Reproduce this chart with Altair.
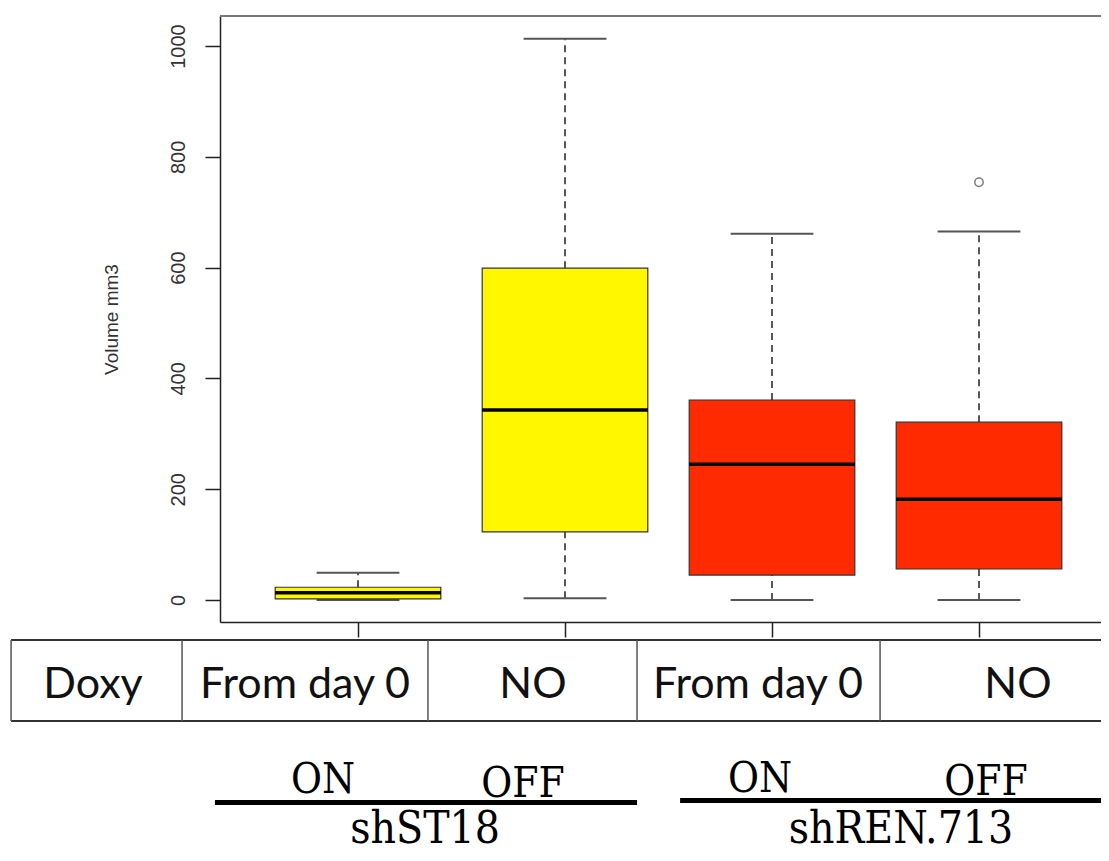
import altair as alt
import pandas as pd

# ---- box plot data ----
positions = [1, 2, 3, 4]
doxy = ["From day 0", "NO", "From day 0", "NO"]
fills = ["#FFF700", "#FFF700", "#FF2A00", "#FF2A00"]
lower_whisker = [0, 3, 0, 0]
q1 = [2, 123, 45, 56]
median = [13, 343, 245, 182]
q3 = [23, 599, 361, 321]
upper_whisker = [49, 1013, 661, 665]
outlier_pos = [4]
outlier_val = [754]
y_ticks = [0, 200, 400, 600, 800, 1000]

# ---- annotation table under the plot (in axis units) ----
table_row_y = [-72.2, -218.4]
table_left = -0.676
table_right = 5.0
table_dividers = [-0.676, 0.150, 1.338, 2.348, 3.522]
table_text_x = [-0.280, 0.744, 1.845, 2.932, 4.188]
table_text = ["Doxy", "From day 0", "NO", "From day 0", "NO"]
table_text_y = -153.4

state_x = [0.831, 1.797, 2.942, 4.034]
state_y = [-348.0, -355.0, -346.6, -352.0]
state_text = ["ON", "OFF", "ON", "OFF"]

group_line_x1 = [0.309, 2.556]
group_line_x2 = [2.348, 5.0]
group_line_y = [-365.5, -362.0]
group_x = [1.324, 3.623]
group_y = [-438.6, -438.6]
group_text = ["shST18", "shREN.713"]

W, H = 881, 606

box_df = pd.DataFrame({
    "pos": positions, "doxy": doxy, "fill": fills,
    "lo": lower_whisker, "q1": q1, "med": median, "q3": q3, "hi": upper_whisker,
})
out_df = pd.DataFrame({"pos": outlier_pos, "val": outlier_val})

xs = alt.Scale(domain=[0.3333, 0.3333 + W / 207.0], nice=False, zero=False)
ys = alt.Scale(domain=[-39.7, 1054.2], nice=False, zero=False)

sans = "Liberation Sans, Arial, Helvetica"
serif_cond = "DejaVu Serif Condensed, Liberation Serif, serif"

x_axis = alt.Axis(
    values=positions, labels=False, tickSize=15, tickWidth=1.5,
    tickColor="#222222", domainColor="#222222", domainWidth=1.5,
    grid=False, title=None)
y_axis = alt.Axis(
    values=y_ticks, format="d", labelAngle=-90, labelAlign="center",
    labelBaseline="alphabetic", labelPadding=21, tickSize=15,
    tickWidth=1.5, tickColor="#222222", domainColor="#222222",
    domainWidth=1.5, labelFont=sans, labelFontSize=20,
    labelColor="#333333", grid=False, title="Volume mm3",
    titleFont=sans, titleFontSize=19, titleFontWeight="normal",
    titleColor="#333333", titlePadding=47)


def X(field):
    return alt.X(field, scale=xs, axis=x_axis)


def Y(field):
    return alt.Y(field, scale=ys, axis=y_axis)


base = alt.Chart(box_df).transform_calculate(
    bl="datum.pos - 0.4", br="datum.pos + 0.4",
    cl="datum.pos - 0.2", cr="datum.pos + 0.2",
)

boxes = base.mark_rect(stroke="#333333", strokeWidth=1.2).encode(
    x=X("bl:Q"), x2="br:Q", y=Y("q1:Q"), y2="q3:Q",
    fill=alt.Fill("fill:N", scale=None),
)
whisk_up = base.mark_rule(color="#111111", strokeWidth=1.4, strokeDash=[7, 5]).encode(
    x=X("pos:Q"), y=Y("q3:Q"), y2="hi:Q")
whisk_dn = base.mark_rule(color="#111111", strokeWidth=1.4, strokeDash=[7, 5]).encode(
    x=X("pos:Q"), y=Y("lo:Q"), y2="q1:Q")
cap_up = base.mark_rule(color="#555555", strokeWidth=2).encode(
    x=X("cl:Q"), x2="cr:Q", y=Y("hi:Q"))
cap_dn = base.mark_rule(color="#555555", strokeWidth=2).encode(
    x=X("cl:Q"), x2="cr:Q", y=Y("lo:Q"))
med_line = base.mark_rule(color="#000000", strokeWidth=3.5).encode(
    x=X("bl:Q"), x2="br:Q", y=Y("med:Q"))
outl = alt.Chart(out_df).mark_point(shape="circle", filled=False, size=70,
                                    color="#444444", strokeWidth=1.5).encode(
    x=X("pos:Q"), y=Y("val:Q"))

frame_top = alt.Chart(pd.DataFrame({"k": [0]})).mark_rule(color="#777777", strokeWidth=2).encode(
    x=alt.value(0), x2=alt.value(W + 10), y=alt.value(0))

# table
th_df = pd.DataFrame({"x1": [table_left] * 2, "x2": [table_right] * 2, "y": table_row_y})
tv_df = pd.DataFrame({"x": table_dividers, "y1": [table_row_y[0]] * len(table_dividers),
                      "y2": [table_row_y[1]] * len(table_dividers)})
tt_df = pd.DataFrame({"x": table_text_x, "y": [table_text_y] * len(table_text_x), "t": table_text})

t_h = alt.Chart(th_df).mark_rule(color="#333333", strokeWidth=2).encode(
    x=X("x1:Q"), x2="x2:Q", y=Y("y:Q"))
t_v = alt.Chart(tv_df).mark_rule(color="#555555", strokeWidth=1.5).encode(
    x=X("x:Q"), y=Y("y1:Q"), y2="y2:Q")
t_t = alt.Chart(tt_df).mark_text(font="Lato", fontSize=43, color="#111111",
                                 align="center", baseline="middle").encode(
    x=X("x:Q"), y=Y("y:Q"), text="t:N")

st_df = pd.DataFrame({"x": state_x, "y": state_y, "t": state_text})
st = alt.Chart(st_df).mark_text(font=serif_cond, fontSize=42, color="#000000",
                                align="center", baseline="alphabetic").encode(
    x=X("x:Q"), y=Y("y:Q"), text="t:N")

gl_df = pd.DataFrame({"x1": group_line_x1, "x2": group_line_x2, "y": group_line_y})
gl = alt.Chart(gl_df).mark_rule(color="#000000", strokeWidth=5).encode(
    x=X("x1:Q"), x2="x2:Q", y=Y("y:Q"))

gt_df = pd.DataFrame({"x": group_x, "y": group_y, "t": group_text})
gt = alt.Chart(gt_df).mark_text(font=serif_cond, fontSize=44, color="#000000",
                                align="center", baseline="alphabetic").encode(
    x=X("x:Q"), y=Y("y:Q"), text="t:N")

chart = alt.layer(
    whisk_up, whisk_dn, cap_up, cap_dn, boxes, med_line, outl, frame_top,
    t_h, t_v, t_t, st, gl, gt,
).properties(
    width=W, height=H,
    autosize=alt.AutoSizeParams(type="none"),
    padding={"left": 212, "top": 8, "right": 0, "bottom": 231},
).configure_view(stroke=None).configure(background="white")

chart.save("out.html", embed_options={"renderer": "svg", "actions": False})
